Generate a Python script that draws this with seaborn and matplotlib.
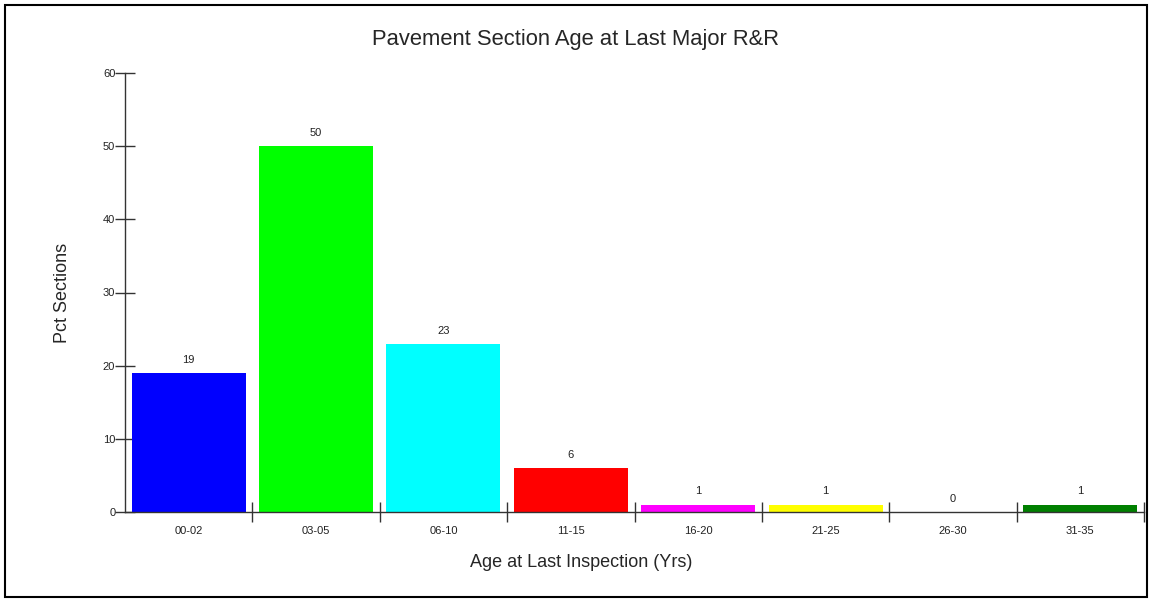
import matplotlib
matplotlib.use("Agg")
import matplotlib.pyplot as plt
import matplotlib.patches as patches
from matplotlib.ticker import FixedLocator
import pandas as pd
import seaborn as sns

# Chart data
age_bins = ["00-02", "03-05", "06-10", "11-15", "16-20", "21-25", "26-30", "31-35"]
pct_sections = [19, 50, 23, 6, 1, 1, 0, 1]
bar_colors = ["#0000FF", "#00FF00", "#00FFFF", "#FF0000", "#FF00FF", "#FFFF00", "#808000", "#008000"]

sns.set_style("white")
plt.rcParams['font.family'] = ['Liberation Sans', 'DejaVu Sans']

df = pd.DataFrame({"age": age_bins, "pct": pct_sections})

fig = plt.figure(figsize=(11.52, 6.02), dpi=100)
ax = fig.add_axes([125 / 1152, 1 - 512 / 602, (1144 - 125) / 1152, (512 - 73) / 602])

sns.barplot(data=df, x="age", y="pct", hue="age", palette=bar_colors,
            width=0.895, legend=False, saturation=1, ax=ax, edgecolor="none")

ax.set_xlim(-0.5, len(age_bins) - 0.5)
ax.set_ylim(0, 60)
ax.set_yticks(range(0, 61, 10))

# value labels above bars
for i, v in enumerate(pct_sections):
    ax.annotate(str(v), (i, v), xytext=(0, 9.5), textcoords="offset points",
                ha="center", va="center", fontsize=8, color="#222222")

# boundary ticks between categories
ax.xaxis.set_minor_locator(FixedLocator([i + 0.5 for i in range(len(age_bins))]))
ax.tick_params(axis="x", which="major", length=0, labelsize=8, pad=10, colors="#222222")
ax.tick_params(axis="x", which="minor", length=14, width=1, direction="inout", color="#333333")
ax.tick_params(axis="y", which="major", length=14, width=1, direction="inout",
               labelsize=8, pad=0, color="#333333", labelcolor="#222222")
ax.tick_params(bottom=True, left=True, which="both")

for side in ["top", "right"]:
    ax.spines[side].set_visible(False)
for side in ["left", "bottom"]:
    ax.spines[side].set_color("#333333")
    ax.spines[side].set_linewidth(1)

ax.set_xlabel("Age at Last Inspection (Yrs)", fontsize=13)
ax.xaxis.set_label_coords((581 - 125) / 1019, -(554 - 512) / 439)
ax.set_ylabel("Pct Sections", fontsize=13, labelpad=23)
fig.text(576 / 1152, 1 - 40 / 602, "Pavement Section Age at Last Major R&R",
         ha="center", va="center", fontsize=15.8)

# outer frame
fig.patches.append(patches.Rectangle((5 / 1152, 5 / 602), 1142 / 1152, 592 / 602,
                                     transform=fig.transFigure, fill=False,
                                     edgecolor="black", linewidth=1.5))

plt.savefig("out.png", dpi=100)
plt.close()
